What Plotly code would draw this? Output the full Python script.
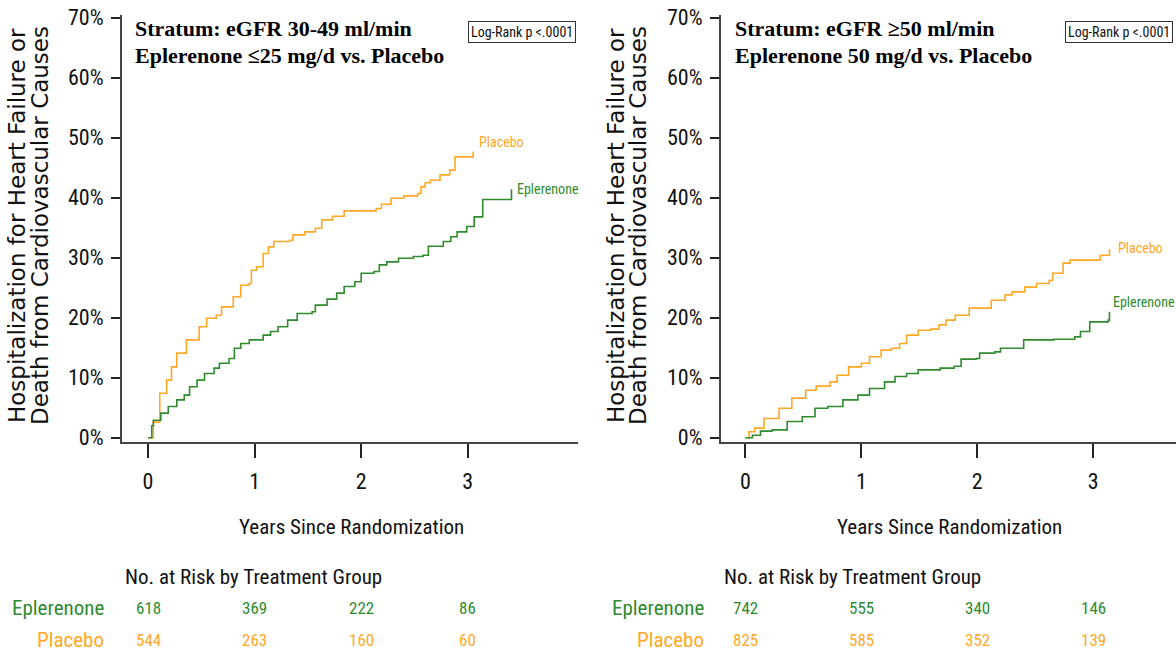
import plotly.graph_objects as go

# ---------------- data ----------------
# Left panel: eGFR 30-49, Eplerenone <=25 mg/d vs Placebo  (years, cumulative %)
L_plc_t = [0, 0.05, 0.11, 0.175, 0.22, 0.27, 0.36, 0.48, 0.55, 0.64, 0.69, 0.80, 0.87, 0.95, 0.97,
           1.02, 1.08, 1.13, 1.18, 1.33, 1.36, 1.47, 1.57, 1.63, 1.73, 1.84, 2.08, 2.14, 2.19, 2.28,
           2.40, 2.53, 2.56, 2.60, 2.65, 2.74, 2.83, 2.88, 3.05, 3.05]
L_plc_y = [0, 2.6, 7.4, 9.6, 11.8, 14.1, 16.3, 18.5, 19.9, 20.4, 21.8, 23.5, 25.4, 25.7, 27.9,
           28.5, 30.7, 31.8, 32.7, 32.9, 33.8, 34.3, 34.9, 36.3, 36.9, 37.8, 37.8, 38.2, 38.9, 39.9,
           40.3, 40.7, 41.8, 42.5, 42.9, 43.8, 44.6, 46.8, 46.8, 47.7]
L_epl_t = [0, 0.035, 0.05, 0.12, 0.19, 0.27, 0.34, 0.39, 0.46, 0.53, 0.62, 0.67, 0.76, 0.81, 0.87,
           0.95, 1.08, 1.15, 1.22, 1.31, 1.40, 1.54, 1.57, 1.68, 1.77, 1.84, 1.94, 2.00, 2.12, 2.17,
           2.24, 2.35, 2.49, 2.58, 2.63, 2.77, 2.84, 2.90, 2.99, 3.06, 3.14, 3.41, 3.41]
L_epl_y = [0, 2.0, 2.9, 4.1, 5.2, 6.3, 7.1, 8.5, 9.6, 10.7, 11.6, 12.4, 13.2, 14.9, 15.7,
           16.3, 17.1, 17.7, 18.5, 19.6, 20.7, 21.0, 22.1, 23.1, 24.1, 25.2, 26.0, 27.4, 27.7, 28.8,
           29.3, 29.9, 30.2, 30.4, 31.9, 32.7, 33.5, 34.3, 35.2, 36.8, 39.7, 39.7, 41.4]

# Right panel: eGFR >=50, Eplerenone 50 mg/d vs Placebo
R_plc_t = [0, 0.03, 0.08, 0.16, 0.29, 0.40, 0.52, 0.61, 0.73, 0.79, 0.89, 1.00, 1.07, 1.17, 1.26,
           1.33, 1.39, 1.49, 1.60, 1.67, 1.73, 1.81, 1.93, 2.04, 2.12, 2.24, 2.30, 2.41, 2.51, 2.62,
           2.65, 2.74, 2.80, 3.03, 3.06, 3.14, 3.14]
R_plc_y = [0, 1.0, 1.6, 3.2, 4.9, 6.6, 7.9, 8.6, 9.3, 10.4, 11.8, 12.4, 13.5, 14.6, 14.9,
           15.7, 17.1, 17.9, 18.1, 18.8, 19.6, 20.4, 21.6, 21.6, 22.9, 23.8, 24.3, 25.1, 25.7, 26.2,
           27.4, 29.1, 29.6, 29.6, 30.4, 31.0, 31.4]
R_epl_t = [0, 0.06, 0.13, 0.23, 0.36, 0.49, 0.60, 0.71, 0.84, 0.97, 1.07, 1.20, 1.29, 1.39, 1.49,
           1.68, 1.80, 1.86, 1.99, 2.02, 2.15, 2.20, 2.35, 2.40, 2.66, 2.84, 2.89, 2.97, 3.13, 3.14]
R_epl_y = [0, 0.4, 1.1, 1.3, 2.7, 3.5, 4.9, 5.2, 6.3, 7.1, 8.2, 9.3, 10.2, 10.7, 11.3,
           11.6, 11.9, 13.1, 13.2, 14.1, 14.3, 14.9, 14.9, 16.3, 16.4, 16.8, 17.7, 19.3, 19.6, 21.0]

risk_years = [0, 1, 2, 3]
L_risk_epl = [618, 369, 222, 86]
L_risk_plc = [544, 263, 160, 60]
R_risk_epl = [742, 555, 340, 146]
R_risk_plc = [825, 585, 352, 139]

y_ticks = [0, 10, 20, 30, 40, 50, 60, 70]
y_ticklabels = ["%d%%" % v for v in y_ticks]
titles = [["Stratum: eGFR 30-49 ml/min", "Eplerenone \u226425 mg/d vs. Placebo"],
          ["Stratum: eGFR \u226550 ml/min", "Eplerenone 50 mg/d vs. Placebo"]]
ytitle = ["Hospitalization for Heart Failure or", "Death from Cardiovascular Causes"]

# ---------------- style ----------------
GREEN = "#2E8B2E"
ORANGE = "#FFA826"
NARROW = "Liberation Sans Narrow, Arial Narrow, Roboto Condensed, Roboto, sans-serif"
SERIF = "Liberation Serif, Times New Roman, serif"
W, H = 1176, 655

fig = go.Figure()

panels = [
    dict(xa="x", ya="y", plc=(L_plc_t, L_plc_y), epl=(L_epl_t, L_epl_y),
         rk_e=L_risk_epl, rk_p=L_risk_plc),
    dict(xa="x2", ya="y2", plc=(R_plc_t, R_plc_y), epl=(R_epl_t, R_epl_y),
         rk_e=R_risk_epl, rk_p=R_risk_plc),
]

for p in panels:
    fig.add_trace(go.Scatter(x=p["plc"][0], y=p["plc"][1], mode="lines", line_shape="hv",
                             line=dict(color=ORANGE, width=1.6), xaxis=p["xa"], yaxis=p["ya"],
                             showlegend=False, name="Placebo"))
    fig.add_trace(go.Scatter(x=p["epl"][0], y=p["epl"][1], mode="lines", line_shape="hv",
                             line=dict(color=GREEN, width=1.6), xaxis=p["xa"], yaxis=p["ya"],
                             showlegend=False, name="Eplerenone"))

ydom = [1 - 442 / H, 1 - 15 / H]
axis_common = dict(showline=True, linecolor="#444", linewidth=2, ticks="outside",
                   tickcolor="#222", tickwidth=2, showgrid=False, zeroline=False,
                   automargin=False)
xfont = dict(family=NARROW, size=22, color="#111")

fig.update_layout(
    width=W, height=H, margin=dict(l=0, r=0, t=0, b=0, autoexpand=False),
    paper_bgcolor="white", plot_bgcolor="white",
    xaxis=dict(domain=[122 / W, 578 / W], range=[-0.244, 4.034], tickvals=risk_years,
               ticklen=14, tickfont=xfont, ticklabelstandoff=5, anchor="y", **axis_common),
    yaxis=dict(domain=ydom, range=[-0.72, 70.45], tickvals=y_ticks, ticktext=y_ticklabels,
               tickmode="array",
               ticklen=9, tickfont=xfont, ticklabelstandoff=3, anchor="x", **axis_common),
    xaxis2=dict(domain=[721 / W, 1.0], range=[-0.211, 3.714], tickvals=risk_years,
                ticklen=14, tickfont=xfont, ticklabelstandoff=5, anchor="y2", **axis_common),
    yaxis2=dict(domain=ydom, range=[-0.72, 70.45], tickvals=y_ticks, ticktext=y_ticklabels,
                tickmode="array",
                ticklen=9, tickfont=xfont, ticklabelstandoff=3, anchor="x2", **axis_common),
)

ann = []
def A(**kw):
    base = dict(showarrow=False)
    base.update(kw)
    ann.append(base)

panel_geo = [
    dict(xa="x", ytl=[17 / W, 40 / W], tx=133 / W, box=521.5 / W, xt=351 / W,
         nrisk=123 / W, rowlab=106 / W,
         lab_plc=dict(xs=4, ys=9), lab_epl=dict(xs=4, ys=0)),
    dict(xa="x2", ytl=[616 / W, 638 / W], tx=733 / W, box=1119 / W, xt=949.5 / W,
         nrisk=722 / W, rowlab=706 / W,
         lab_plc=dict(xs=7, ys=1), lab_epl=dict(xs=2, ys=10)),
]

for idx, (p, g) in enumerate(zip(panels, panel_geo)):
    # y-axis title (two lines)
    for i, line in enumerate(ytitle):
        A(text=line, x=g["ytl"][i], y=1 - 226 / H, xref="paper", yref="paper",
          xanchor="center", yanchor="middle", textangle=-90,
          font=dict(family="DejaVu Sans, Verdana, sans-serif", size=23, color="#111"))
    # panel title
    for i, line in enumerate(titles[idx]):
        A(text="<b>%s</b>" % line, x=g["tx"], y=1 - (28 + 27 * i) / H, xref="paper", yref="paper",
          xanchor="left", yanchor="middle", font=dict(family=SERIF, size=22, color="#000"))
    # log-rank box
    A(text="Log-Rank p <.0001", x=g["box"], y=1 - 32 / H, xref="paper", yref="paper",
      xanchor="center", yanchor="middle", bordercolor="#333", borderwidth=1, borderpad=2,
      font=dict(family=NARROW, size=14, color="#111"))
    # x title
    A(text="Years Since Randomization", x=g["xt"], y=1 - 527 / H, xref="paper", yref="paper",
      xanchor="center", yanchor="middle", font=dict(family=NARROW, size=21, color="#111"))
    # curve labels at curve ends
    A(text="Placebo", x=p["plc"][0][-1], y=p["plc"][1][-1], xref=g["xa"], yref=p["ya"],
      xanchor="left", yanchor="middle", xshift=g["lab_plc"]["xs"], yshift=g["lab_plc"]["ys"],
      font=dict(family=NARROW, size=14, color=ORANGE))
    A(text="Eplerenone", x=p["epl"][0][-1], y=p["epl"][1][-1], xref=g["xa"], yref=p["ya"],
      xanchor="left", yanchor="middle", xshift=g["lab_epl"]["xs"], yshift=g["lab_epl"]["ys"],
      font=dict(family=NARROW, size=14, color=GREEN))
    # number at risk
    A(text="No. at Risk by Treatment Group", x=g["nrisk"], y=1 - 577 / H, xref="paper",
      yref="paper", xanchor="left", yanchor="middle",
      font=dict(family=NARROW, size=21, color="#111"))
    A(text="Eplerenone", x=g["rowlab"], y=1 - 608 / H, xref="paper", yref="paper",
      xanchor="right", yanchor="middle", font=dict(family=NARROW, size=21, color=GREEN))
    A(text="Placebo", x=g["rowlab"], y=1 - 640 / H, xref="paper", yref="paper",
      xanchor="right", yanchor="middle", font=dict(family=NARROW, size=21, color=ORANGE))
    for yr, ne, npl in zip(risk_years, p["rk_e"], p["rk_p"]):
        A(text=str(ne), x=yr, y=1 - 608 / H, xref=g["xa"], yref="paper",
          xanchor="center", yanchor="middle", font=dict(family=NARROW, size=17, color=GREEN))
        A(text=str(npl), x=yr, y=1 - 640 / H, xref=g["xa"], yref="paper",
          xanchor="center", yanchor="middle", font=dict(family=NARROW, size=17, color=ORANGE))

fig.update_layout(annotations=ann)

fig.write_html("out.html", include_plotlyjs=True, config={"displayModeBar": False},
               post_script="document.body.style.margin='0';document.body.style.overflow='hidden';")
